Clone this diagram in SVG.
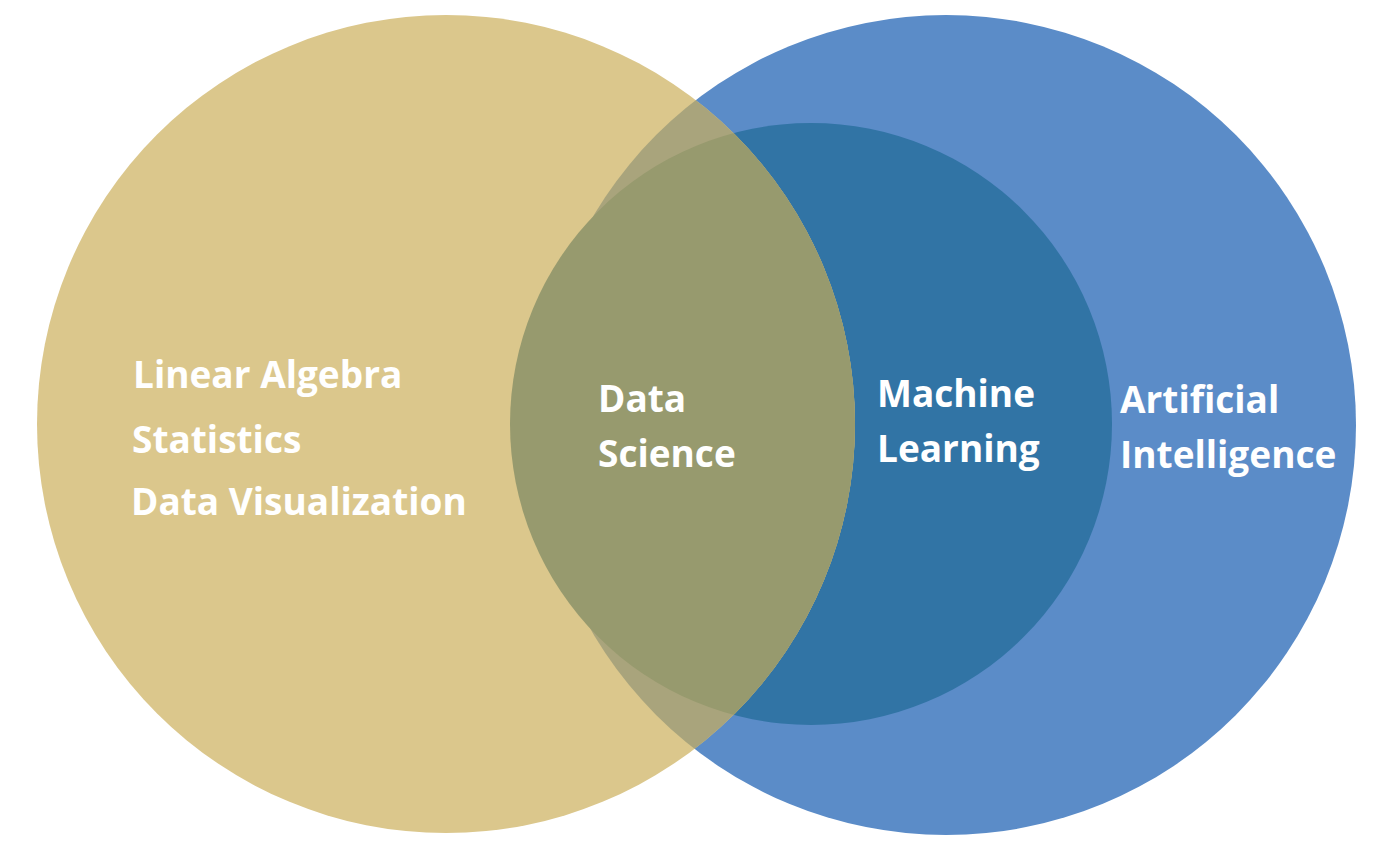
<svg xmlns="http://www.w3.org/2000/svg" width="1400" height="848" viewBox="0 0 1400 848">
<style>
text{font-family:"Open Sans","Liberation Sans",sans-serif;font-weight:bold;font-size:37px;fill:#ffffff}
</style>
<defs>
<clipPath id="cy"><circle cx="446" cy="424" r="409"/></clipPath>
</defs>
<rect width="1400" height="848" fill="#ffffff"/>
<g id="ai"><circle cx="946" cy="425" r="410" fill="#5b8cc8"/></g>
<g id="ml"><circle cx="811" cy="424" r="301" fill="#3174a5"/></g>
<g id="ds">
<circle cx="446" cy="424" r="409" fill="#dbc78c"/>
<g clip-path="url(#cy)">
<circle cx="946" cy="425" r="410" fill="#a9a47c"/>
<circle cx="811" cy="424" r="301" fill="#979a6e"/>
</g>
</g>
<g id="labels">
<text x="133" y="388">Linear Algebra</text>
<text x="132" y="453">Statistics</text>
<text x="131" y="515">Data Visualization</text>
<text x="598" y="412">Data</text>
<text x="598" y="467">Science</text>
<text x="877" y="407">Machine</text>
<text x="877" y="462">Learning</text>
<text x="1120" y="413">Artificial</text>
<text x="1120" y="468">Intelligence</text>
</g>
</svg>
